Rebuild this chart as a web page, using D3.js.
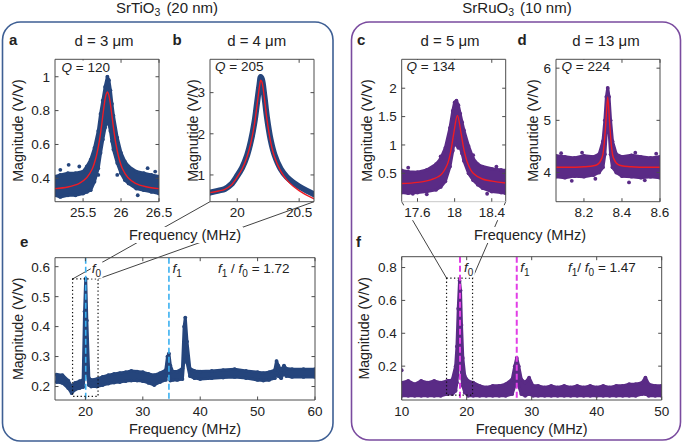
<!DOCTYPE html>
<html><head><meta charset="utf-8">
<script src="https://cdn.jsdelivr.net/npm/d3@7"></script>
<style>body{margin:0;background:#fff}svg{display:block}</style>
</head><body>
<svg id="c" width="685" height="444"></svg>
<script>
// ---------- DATA ----------
// Panel a (SrTiO3, d = 3 um): measured band (lower/upper envelope of points) and fit
const aFreq = [25.13,25.2,25.3,25.4,25.5,25.55,25.6,25.65,25.7,25.73,25.76,25.79,25.82,25.84,25.86,25.88,25.9,25.95,26.0,26.05,26.1,26.2,26.3,26.4,26.5];
const aLo   = [0.30,0.29,0.30,0.30,0.31,0.32,0.33,0.38,0.46,0.55,0.63,0.70,0.76,0.72,0.68,0.62,0.57,0.49,0.43,0.39,0.37,0.34,0.33,0.32,0.31];
const aHi   = [0.41,0.42,0.43,0.43,0.44,0.47,0.51,0.58,0.68,0.78,0.86,0.94,1.00,0.98,0.92,0.84,0.77,0.64,0.55,0.50,0.47,0.44,0.43,0.42,0.41];
const aOut  = [[25.31,0.48],[25.2,0.45],[25.45,0.47],[26.35,0.46],[26.45,0.44],[25.7,0.42],[25.95,0.42],[26.22,0.30]];
const aFitF = [25.13,25.3,25.45,25.55,25.62,25.67,25.71,25.74,25.77,25.8,25.82,25.84,25.87,25.9,25.93,25.97,26.02,26.09,26.19,26.33,26.5];
const aFitV = [0.339,0.349,0.370,0.405,0.455,0.523,0.609,0.699,0.805,0.890,0.910,0.890,0.805,0.699,0.609,0.523,0.455,0.405,0.370,0.350,0.339];

// Panel b (SrTiO3, d = 4 um)
const bFreq = [19.78,19.85,19.9,19.95,20.0,20.04,20.08,20.11,20.14,20.16,20.18,20.19,20.2,20.22,20.24,20.27,20.3,20.35,20.4,20.45,20.5,20.56,20.62];
const bVal  = [0.57,0.62,0.66,0.77,0.98,1.18,1.48,1.82,2.30,2.75,3.20,3.38,3.32,2.90,2.40,1.85,1.50,1.15,0.95,0.82,0.72,0.62,0.53];
const bFit  = [0.57,0.61,0.65,0.75,0.95,1.15,1.45,1.78,2.25,2.70,3.15,3.30,3.25,2.85,2.35,1.80,1.45,1.10,0.88,0.73,0.62,0.51,0.42];

// Panel c (SrRuO3, d = 5 um)
const cFreq = [17.43,17.5,17.6,17.7,17.8,17.85,17.9,17.95,17.98,18.0,18.02,18.04,18.06,18.08,18.1,18.15,18.2,18.25,18.3,18.4,18.5,18.55];
const cLo   = [0.16,0.15,0.16,0.18,0.21,0.26,0.36,0.62,0.90,1.10,1.00,0.95,0.95,0.85,0.72,0.50,0.38,0.30,0.24,0.18,0.16,0.15];
const cHi   = [0.55,0.53,0.52,0.56,0.66,0.76,0.95,1.30,1.60,1.75,1.78,1.70,1.55,1.40,1.26,0.98,0.76,0.66,0.62,0.58,0.56,0.55];
const cOut  = [[17.5,0.60],[18.45,0.62],[17.85,0.80],[18.2,0.82],[17.7,0.13],[18.35,0.14],[17.55,0.14]];
const cFitF = [17.43,17.6,17.75,17.85,17.92,17.96,17.99,18.03,18.07,18.1,18.14,18.2,18.3,18.45,18.55];
const cFitV = [0.32,0.34,0.39,0.47,0.65,0.90,1.20,1.52,1.20,0.92,0.68,0.50,0.40,0.35,0.33];

// Panel d (SrRuO3, d = 13 um)
const dFreq = [8.053,8.1,8.15,8.2,8.25,8.28,8.3,8.31,8.318,8.325,8.332,8.34,8.35,8.37,8.4,8.45,8.5,8.55,8.6];
const dLo   = [3.92,3.90,3.93,3.92,3.95,4.00,4.10,4.35,4.80,5.15,4.80,4.35,4.10,4.00,3.93,3.92,3.90,3.92,3.90];
const dHi   = [4.32,4.30,4.28,4.32,4.30,4.35,4.60,5.00,5.45,5.62,5.45,5.00,4.60,4.35,4.30,4.33,4.30,4.28,4.30];
const dOut  = [[8.136,3.84],[8.437,3.81],[8.08,4.37],[8.47,4.38],[8.58,4.36],[8.26,3.88],[8.19,4.38],[8.52,3.85]];
const dFitF = [8.053,8.2,8.27,8.295,8.305,8.315,8.325,8.335,8.345,8.355,8.38,8.45,8.6];
const dFitV = [4.10,4.11,4.15,4.28,4.50,4.95,5.45,4.95,4.50,4.28,4.15,4.11,4.10];

// Panel e (SrTiO3 broadband)
const eFreq = [15,16,17,17.6,18.2,19,19.6,19.85,20.05,20.25,20.6,21,22,23,24,25,26,27,28,29,30,31,32,33,34,34.3,34.55,34.8,35.2,36,36.9,37.2,37.4,37.7,38.2,39,40,42,44,46,48,50,51,52,53,53.3,53.6,54.1,54.6,55,56,58,60];
const eLo   = [0.215,0.212,0.195,0.178,0.190,0.195,0.198,0.250,0.290,0.250,0.205,0.200,0.200,0.205,0.210,0.213,0.215,0.218,0.220,0.220,0.218,0.212,0.205,0.215,0.222,0.250,0.240,0.220,0.222,0.222,0.225,0.300,0.320,0.280,0.235,0.228,0.225,0.228,0.230,0.232,0.228,0.222,0.220,0.222,0.228,0.245,0.235,0.228,0.245,0.235,0.232,0.232,0.232];
const eHi   = [0.240,0.238,0.220,0.200,0.212,0.218,0.222,0.450,0.560,0.420,0.228,0.222,0.225,0.232,0.238,0.242,0.245,0.248,0.252,0.250,0.248,0.242,0.238,0.245,0.255,0.300,0.310,0.270,0.250,0.250,0.260,0.400,0.430,0.350,0.260,0.252,0.250,0.252,0.255,0.258,0.252,0.248,0.245,0.248,0.255,0.285,0.270,0.255,0.270,0.260,0.258,0.258,0.258];
const eMarks = [20.05, 34.55];          // f0, f1
const eZoom  = [17.76, 22.2, 0.167, 0.559];

// Panel f (SrRuO3 broadband)
const fFreq = [10,11,12,13,14,15,16,17,17.8,18.3,18.5,18.7,18.9,19.05,19.2,19.4,19.7,20.2,21,22,23,24,25,26,27,27.4,27.7,28.0,28.4,29,29.6,30.2,31,32,33,34,35,36,37,38,39,40,41,42,43,44,45,46,47,47.5,48,49,50];
const fLo   = [0.02,0.02,0.02,0.02,0.02,0.02,0.02,0.03,0.03,0.05,0.10,0.20,0.35,0.30,0.15,0.08,0.04,0.02,0.02,0.02,0.02,0.02,0.02,0.02,0.03,0.08,0.10,0.08,0.03,0.02,0.03,0.02,0.02,0.02,0.02,0.02,0.02,0.02,0.02,0.02,0.02,0.02,0.02,0.02,0.02,0.02,0.02,0.02,0.03,0.03,0.02,0.02,0.02];
const fHi   = [0.10,0.11,0.09,0.11,0.10,0.11,0.10,0.11,0.12,0.20,0.32,0.55,0.72,0.66,0.45,0.25,0.14,0.11,0.10,0.08,0.07,0.08,0.08,0.09,0.12,0.20,0.25,0.20,0.12,0.10,0.13,0.08,0.08,0.07,0.08,0.07,0.08,0.07,0.08,0.07,0.08,0.07,0.08,0.07,0.08,0.08,0.09,0.09,0.10,0.13,0.09,0.08,0.08];
const fOut  = [[10.0,0.175]];
const fMarks = [18.97, 27.7];
const fZoom  = [16.9, 20.9, 0.024, 0.736];

// ---------- DRAWING ----------
const FONT = '"Liberation Sans", Arial, Helvetica, sans-serif';
const NAVY = '#25457c', PURP = '#5a2b86', RED = '#ee1c25';
const svg = d3.select('#c').attr('font-family', FONT);

// Group boxes
svg.append('rect').attr('x',2.5).attr('y',22).attr('width',330.5).attr('height',419)
  .attr('rx',18).attr('fill','none').attr('stroke','#3e5f94').attr('stroke-width',1.6);
svg.append('rect').attr('x',351.5).attr('y',22).attr('width',329).attr('height',418)
  .attr('rx',18).attr('fill','none').attr('stroke','#7a4b9f').attr('stroke-width',1.6);

function header(cx, base, main, sub, rest){
  const t = svg.append('text').attr('x',cx).attr('y',base).attr('text-anchor','middle')
    .attr('font-size',15).attr('fill','#222');
  t.append('tspan').text(main);
  t.append('tspan').attr('dy',3).attr('font-size',10.5).text(sub);
  t.append('tspan').attr('dy',-3).attr('dx',6).text(rest);
}
header(167, 13, 'SrTiO', '3', '(20 nm)');
header(517, 13, 'SrRuO', '3', '(10 nm)');

function makePanel(o){
  const x = d3.scaleLinear().domain(o.xd).range([o.x0,o.x1]);
  const y = d3.scaleLinear().domain(o.yd).range([o.y1,o.y0]);
  return Object.assign({x,y}, o);
}
const A = makePanel({id:'a',x0:55,x1:159,y0:59.3,y1:201.7,xd:[25.13,26.5],yd:[0.262,1.103],xt:[25.5,26,26.5],yt:[0.4,0.6,0.8,1]});
const B = makePanel({id:'b',x0:210,x1:314,y0:59.3,y1:201.7,xd:[19.78,20.62],yd:[0.35,3.81],xt:[20,20.5],yt:[1,2,3]});
const C = makePanel({id:'c',x0:401.7,x1:505.7,y0:59.3,y1:201.7,xd:[17.43,18.55],yd:[0,2.51],xt:[17.6,18,18.4],yt:[0.5,1,1.5,2],bg:true,faintBottom:true});
const D = makePanel({id:'d',x0:556,x1:660,y0:59.3,y1:201.7,xd:[8.053,8.6],yd:[3.44,6.17],xt:[8.2,8.4,8.6],yt:[4,5,6]});
const E = makePanel({id:'e',x0:55,x1:315,y0:257.7,y1:400,xd:[14.7,60],yd:[0.155,0.63],xt:[20,30,40,50,60],yt:[0.2,0.3,0.4,0.5,0.6]});
const F = makePanel({id:'f',x0:401.7,x1:661.7,y0:256.7,y1:400,xd:[10,50],yd:[-0.006,0.866],xt:[10,20,30,40,50],yt:[0.2,0.4,0.6,0.8]});

// connector lines (drawn first so labels cover them)
function connectors(P, Z, T){
  const xl = P.x(Z[0]), xr = P.x(Z[1]), yt = P.y(Z[3]);
  svg.append('line').attr('x1',xl).attr('y1',yt).attr('x2',T.x0).attr('y2',T.y1)
    .attr('stroke','#111').attr('stroke-width',0.8);
  svg.append('line').attr('x1',xr).attr('y1',yt).attr('x2',T.x1).attr('y2',T.y1)
    .attr('stroke','#111').attr('stroke-width',0.8);
}
connectors(E, eZoom, B);
connectors(F, fZoom, C);

const defs = svg.append('defs');
function plotFrame(P){
  const g = svg.append('g');
  defs.append('clipPath').attr('id','clip-'+P.id).append('rect')
    .attr('x',P.x0).attr('y',P.y0).attr('width',P.x1-P.x0).attr('height',P.y1-P.y0);
  P.g = g;
  P.dg = g.append('g').attr('clip-path','url(#clip-'+P.id+')');
  return P;
}
function axes(P){
  const g = P.g, ax = '#4d4d4d', tl = 3.5;
  g.append('path').attr('d',`M${P.x0},${P.y1}V${P.y0}H${P.x1}V${P.y1}`)
    .attr('fill','none').attr('stroke',ax).attr('stroke-width',1);
  g.append('line').attr('x1',P.x0).attr('x2',P.x1).attr('y1',P.y1).attr('y2',P.y1)
    .attr('stroke',P.faintBottom ? '#c8c8c8' : ax).attr('stroke-width',1);
  P.xt.forEach(v=>{
    const px = P.x(v);
    g.append('line').attr('x1',px).attr('x2',px).attr('y1',P.y1).attr('y2',P.y1-tl).attr('stroke',ax);
    g.append('line').attr('x1',px).attr('x2',px).attr('y1',P.y0).attr('y2',P.y0+tl).attr('stroke',ax);
    const t = g.append('text').attr('x',px).attr('y',P.y1+15.5).attr('text-anchor','middle')
      .attr('font-size',13.5).attr('fill','#222').text(String(v));
    if(P.bg){
      const bb = t.node().getBBox();
      g.insert('rect', () => t.node()).attr('x',bb.x-1).attr('y',bb.y).attr('width',bb.width+2)
        .attr('height',bb.height).attr('fill','#fff');
    }
  });
  P.yt.forEach(v=>{
    const py = P.y(v);
    g.append('line').attr('y1',py).attr('y2',py).attr('x1',P.x0).attr('x2',P.x0+tl).attr('stroke',ax);
    g.append('line').attr('y1',py).attr('y2',py).attr('x1',P.x1).attr('x2',P.x1-tl).attr('stroke',ax);
    g.append('text').attr('x',P.x0-5).attr('y',py).attr('dy','0.36em').attr('text-anchor','end')
      .attr('font-size',13.5).attr('fill','#222').text(String(v));
  });
}
function band(P, fr, lo, hi, col, out){
  const pts = fr.map((f,i)=>({f, lo:lo[i], hi:hi[i]}));
  P.dg.append('path').datum(pts)
    .attr('d', d3.area().x(d=>P.x(d.f)).y0(d=>P.y(d.lo)).y1(d=>P.y(d.hi)).curve(d3.curveLinear))
    .attr('fill',col).attr('stroke',col).attr('stroke-width',3).attr('stroke-linejoin','round');
  const dots = [];
  pts.forEach(d=>{dots.push([d.f,d.lo]);dots.push([d.f,d.hi]);});
  (out||[]).forEach(d=>dots.push(d));
  P.dg.selectAll(null).data(dots).enter().append('circle')
    .attr('cx',d=>P.x(d[0])).attr('cy',d=>P.y(d[1])).attr('r',1.9).attr('fill',col);
}
function fit(P, fr, v){
  P.dg.append('path').datum(fr.map((f,i)=>[f,v[i]]))
    .attr('d', d3.line().x(d=>P.x(d[0])).y(d=>P.y(d[1])).curve(d3.curveCatmullRom.alpha(0.5)))
    .attr('fill','none').attr('stroke',RED).attr('stroke-width',1.4);
}

[A,B,C,D,E,F].forEach(plotFrame);

band(A, aFreq, aLo, aHi, NAVY, aOut);
fit(A, aFitF, aFitV);

B.dg.append('path').datum(bFreq.map((f,i)=>[f,bVal[i]]))
  .attr('d', d3.line().x(d=>B.x(d[0])).y(d=>B.y(d[1])).curve(d3.curveCatmullRom.alpha(0.5)))
  .attr('fill','none').attr('stroke',NAVY).attr('stroke-width',6).attr('stroke-linecap','round');
fit(B, bFreq, bFit);

band(C, cFreq, cLo, cHi, PURP, cOut);
fit(C, cFitF, cFitV);

band(D, dFreq, dLo, dHi, PURP, dOut);
fit(D, dFitF, dFitV);

band(E, eFreq, eLo, eHi, NAVY, []);
band(F, fFreq, fLo, fHi, PURP, fOut);

// dashed resonance markers
eMarks.forEach(m=>E.dg.append('line').attr('x1',E.x(m)).attr('x2',E.x(m)).attr('y1',E.y0).attr('y2',E.y1)
  .attr('stroke','#3ab0f0').attr('stroke-width',1.6).attr('stroke-dasharray','6,3'));
fMarks.forEach(m=>F.dg.append('line').attr('x1',F.x(m)).attr('x2',F.x(m)).attr('y1',F.y0).attr('y2',F.y1)
  .attr('stroke','#e23ee6').attr('stroke-width',2).attr('stroke-dasharray','6,3'));

// dotted zoom rectangles
function zoomRect(P, Z){
  P.g.append('rect').attr('x',P.x(Z[0])).attr('y',P.y(Z[3])).attr('width',P.x(Z[1])-P.x(Z[0]))
    .attr('height',P.y(Z[2])-P.y(Z[3])).attr('fill','none').attr('stroke','#111')
    .attr('stroke-width',1.2).attr('stroke-dasharray','1.3,2.4');
}
zoomRect(E, eZoom);
zoomRect(F, fZoom);

[A,B,C,D,E,F].forEach(axes);

// ---------- TEXT ----------
function txt(x,y,s,o){
  o = o||{};
  const t = svg.append('text').attr('x',x).attr('y',y).attr('font-size',o.size||14.5)
    .attr('fill','#222').attr('text-anchor',o.anchor||'start').text(s);
  if(o.bold) t.attr('font-weight','bold');
  if(o.rot){ t.attr('transform',`rotate(-90,${x},${y})`).attr('dy','0.35em'); }
  if(o.bg){
    const bb = t.node().getBBox();
    svg.insert('rect', () => t.node()).attr('x',bb.x-2).attr('y',bb.y).attr('width',bb.width+4)
      .attr('height',bb.height).attr('fill','#fff');
  }
  return t;
}
// panel letters
txt(9,45,'a',{bold:true,size:15});
txt(172.5,45,'b',{bold:true,size:15});
txt(357,45,'c',{bold:true,size:15});
txt(517.5,45,'d',{bold:true,size:15});
txt(20,247,'e',{bold:true,size:15});
txt(356,247,'f',{bold:true,size:15});
// titles
txt(104,46,'d = 3 μm',{anchor:'middle',size:15});
txt(256.7,46,'d = 4 μm',{anchor:'middle',size:15});
txt(450,46,'d = 5 μm',{anchor:'middle',size:15});
txt(606,46,'d = 13 μm',{anchor:'middle',size:15});
// Q values (white background, as in the original)
function qText(x,y,val){
  const t = svg.append('text').attr('x',x).attr('y',y).attr('font-size',13.5).attr('fill','#222');
  t.append('tspan').attr('font-style','italic').text('Q');
  t.append('tspan').text(' = '+val);
  const bb = t.node().getBBox();
  svg.insert('rect', () => t.node()).attr('x',bb.x-1).attr('y',bb.y+1).attr('width',bb.width+2)
    .attr('height',bb.height-1).attr('fill','#fff');
}
qText(61.5,71.5,'120'); qText(215,71,'205'); qText(406.5,71,'134'); qText(561.5,71,'224');
// y labels
txt(18.5,(A.y0+A.y1)/2,'Magnitude (V/V)',{rot:true,anchor:'middle',size:14.2});
txt(193,(B.y0+B.y1)/2,'Magnutide (V/V)',{rot:true,anchor:'middle',size:14.2});
txt(367,(C.y0+C.y1)/2,'Magnitude (V/V)',{rot:true,anchor:'middle',size:14.2});
txt(533,(D.y0+D.y1)/2,'Magnutide (V/V)',{rot:true,anchor:'middle',size:14.2});
txt(18.5,(E.y0+E.y1)/2,'Magnitude (V/V)',{rot:true,anchor:'middle',size:14.2});
txt(364,(F.y0+F.y1)/2,'Magnitude (V/V)',{rot:true,anchor:'middle',size:14.2});
// x labels
txt(185,240,'Frequency (MHz)',{anchor:'middle',bg:true});
txt(530,240,'Frequency (MHz)',{anchor:'middle',bg:true});
txt(185,434,'Frequency (MHz)',{anchor:'middle'});
txt(531.7,434,'Frequency (MHz)',{anchor:'middle'});

// f labels
function fLabel(x,y,parts,bg){
  const t = svg.append('text').attr('x',x).attr('y',y).attr('font-size',13.5).attr('fill','#222');
  parts.forEach(p=>{
    const s = t.append('tspan').text(p[0]);
    if(p[1]==='i') s.attr('font-style','italic');
    if(p[1]==='sub') s.attr('dy',3.5).attr('font-size',10);
    if(p[1]==='up') s.attr('dy',-3.5);
  });
  if(bg){
    const bb = t.node().getBBox();
    svg.insert('rect', () => t.node()).attr('x',bb.x-1).attr('y',bb.y+1).attr('width',bb.width+2)
      .attr('height',bb.height-1).attr('fill','#fff');
  }
}
fLabel(E.x(eMarks[0])+6,273,[['f','i'],['0','sub']],true);
fLabel(E.x(eMarks[1])+3.5,273,[['f','i'],['1','sub']],true);
fLabel(218,273,[['f','i'],['1','sub'],[' / ','up'],['f','i'],['0','sub'],[' = 1.72','up']],false);
fLabel(F.x(fMarks[0])+4,272,[['f','i'],['0','sub']],true);
fLabel(F.x(fMarks[1])+3.5,272,[['f','i'],['1','sub']],true);
fLabel(568,272,[['f','i'],['1','sub'],['/ ','up'],['f','i'],['0','sub'],[' = 1.47','up']],false);
</script>
</body></html>
